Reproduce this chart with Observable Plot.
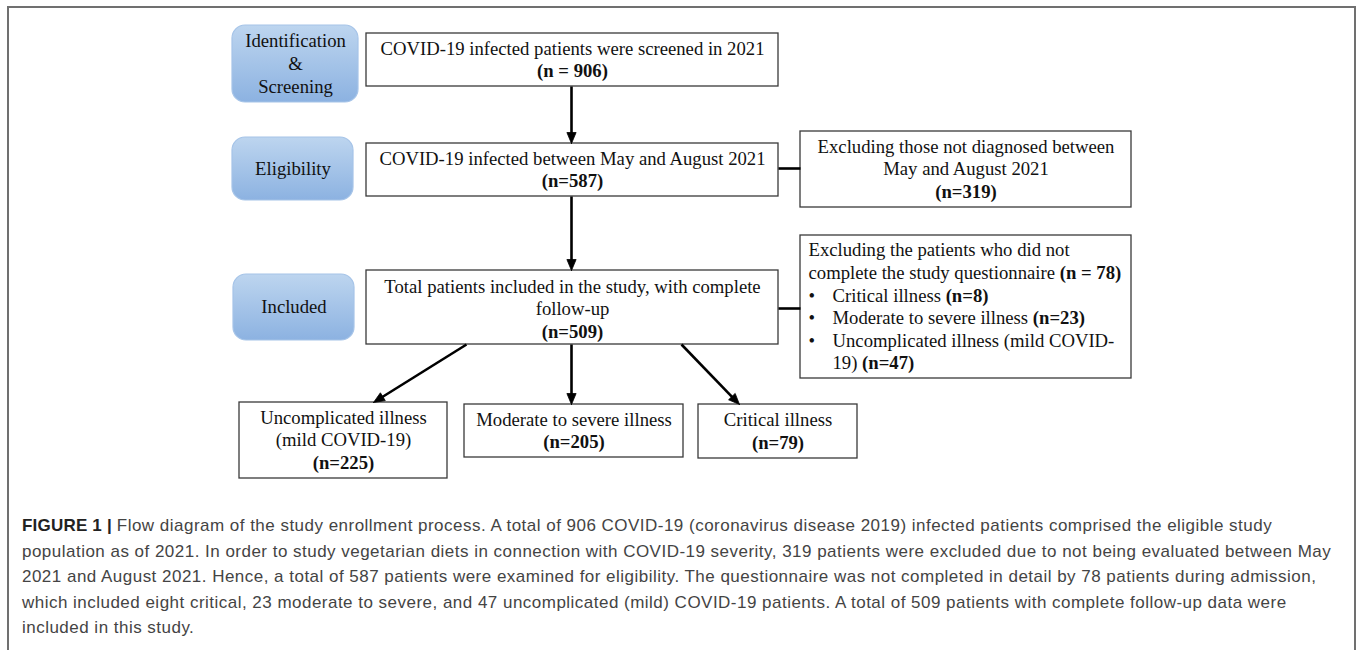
<!DOCTYPE html>
<html><head><meta charset="utf-8">
<script src="https://cdn.jsdelivr.net/npm/d3@7"></script>
<script src="https://cdn.jsdelivr.net/npm/@observablehq/plot@0.6"></script>
<style>
html,body{margin:0;padding:0;background:#fff;overflow:hidden;width:1357px;height:650px}
#chart{position:absolute;left:0;top:0}
#frame{position:absolute;left:7px;top:6px;width:1349px;height:720px;border:2px solid #707070;box-sizing:border-box;pointer-events:none}
#caption{position:absolute;left:22px;top:513px;font-family:"Liberation Sans",Arial,sans-serif;font-size:17px;letter-spacing:0.48px;line-height:25.5px;color:#444;white-space:nowrap}
#caption b{color:#222;letter-spacing:0.2px}
</style></head><body>
<div id="chart"></div><div id="caption"></div><div id="frame"></div>
<script>
// ---------- data ----------
const stageLabels = ["Identification\n&\nScreening", "Eligibility", "Included"];
const flowLabels = [
  "COVID-19 infected patients were screened in 2021",
  "COVID-19 infected between May and August 2021",
  "Total patients included in the study, with complete\nfollow-up"
];
const flowCounts = ["(n = 906)", "(n=587)", "(n=509)"];
const dateExclusionLabel = "Excluding those not diagnosed between\nMay and August 2021";
const dateExclusionCount = "(n=319)";
const questionnaireLabel = ["Excluding the patients who did not", "complete the study questionnaire"];
const questionnaireCount = "(n = 78)";
const excludedGroups = ["Critical illness", "Moderate to severe illness", "Uncomplicated illness (mild COVID-\n19)"];
const excludedCounts = ["(n=8)", "(n=23)", "(n=47)"];
const outcomeLabels = ["Uncomplicated illness\n(mild COVID-19)", "Moderate to severe illness", "Critical illness"];
const outcomeCounts = ["(n=225)", "(n=205)", "(n=79)"];
const captionLead = "FIGURE 1 |";
const captionLines = [
  "Flow diagram of the study enrollment process. A total of 906 COVID-19 (coronavirus disease 2019) infected patients comprised the eligible study",
  "population as of 2021. In order to study vegetarian diets in connection with COVID-19 severity, 319 patients were excluded due to not being evaluated between May",
  "2021 and August 2021. Hence, a total of 587 patients were examined for eligibility. The questionnaire was not completed in detail by 78 patients during admission,",
  "which included eight critical, 23 moderate to severe, and 47 uncomplicated (mild) COVID-19 patients. A total of 509 patients with complete follow-up data were",
  "included in this study."
];

// ---------- layout ----------
const layout = {
  stage: [{x1:232,x2:358,y1:25,y2:102},{x1:232,x2:353,y1:137,y2:200},{x1:233,x2:354,y1:274,y2:340}],
  flow: [{x1:366,x2:778,y1:33,y2:86},{x1:366,x2:778,y1:143,y2:196},{x1:366,x2:778,y1:270,y2:344}],
  excl: [{x1:800,x2:1131,y1:131,y2:207},{x1:800,x2:1131,y1:235,y2:378}],
  outcome: [{x1:239,x2:447,y1:402,y2:478},{x1:464,x2:683,y1:404,y2:457},{x1:698,x2:857,y1:404,y2:458}],
  arrows: [
    {x1:571,y1:86,x2:571,y2:143},
    {x1:571,y1:196,x2:571,y2:270},
    {x1:466,y1:344,x2:373,y2:402},
    {x1:571,y1:344,x2:571,y2:404},
    {x1:681,y1:344,x2:739,y2:404}
  ],
  connectors: [{x1:778,y1:168,x2:800,y2:168},{x1:778,y1:308,x2:800,y2:308}],
  textX: 808, bulletTextX: 832
};

const serif = "'Liberation Serif','Times New Roman',serif";
const FS = 18.7, LH = 22.6;
const ctx = document.createElement("canvas").getContext("2d");
const measure = (t, bold) => { ctx.font = `${bold ? "bold " : ""}${FS}px 'Liberation Serif'`; return ctx.measureText(t).width; };

const rows = [];
function addCentered(box, lines, dy = 0) {
  const cx = (box.x1 + box.x2) / 2, cy = (box.y1 + box.y2) / 2 + dy;
  lines.forEach((l, i) => rows.push({x: cx, y: cy + (i - (lines.length - 1) / 2) * LH, text: l.text, bold: l.bold, anchor: "middle"}));
}
const plain = s => s.split("\n").map(t => ({text: t, bold: false}));

stageLabels.forEach((s, i) => addCentered(layout.stage[i], plain(s)));
flowLabels.forEach((s, i) => addCentered(layout.flow[i], [...plain(s), {text: flowCounts[i], bold: true}], i === 2 ? 2 : 0));
addCentered(layout.excl[0], [...plain(dateExclusionLabel), {text: dateExclusionCount, bold: true}]);
outcomeLabels.forEach((s, i) => addCentered(layout.outcome[i], [...plain(s), {text: outcomeCounts[i], bold: true}]));

// questionnaire box: left aligned, mixed bold
{
  const b = layout.excl[1];
  const lines = [];
  lines.push([{t: questionnaireLabel[0]}]);
  lines.push([{t: questionnaireLabel[1] + " "}, {t: questionnaireCount, bold: true}]);
  excludedGroups.forEach((g, i) => {
    const parts = g.split("\n");
    parts.forEach((p, j) => {
      const last = j === parts.length - 1;
      const segs = [{t: p + (last ? " " : ""), indent: true, bullet: j === 0}];
      if (last) segs.push({t: excludedCounts[i], bold: true, indent: true});
      lines.push(segs);
    });
  });
  const cy = (b.y1 + b.y2) / 2;
  lines.forEach((segs, i) => {
    const y = cy + (i - (lines.length - 1) / 2) * LH;
    let x = segs[0].indent ? layout.bulletTextX : layout.textX;
    if (segs[0].bullet) rows.push({x: layout.textX, y, text: "•", bold: false, anchor: "start"});
    segs.forEach(s => {
      rows.push({x, y, text: s.t, bold: !!s.bold, anchor: "start"});
      x += measure(s.t, s.bold);
    });
  });
}

// arrows: shafts + filled heads
const HL = 11, HW = 4.6;
const shafts = [], heads = [];
layout.arrows.forEach((a, k) => {
  const dx = a.x2 - a.x1, dy = a.y2 - a.y1, len = Math.hypot(dx, dy);
  const ux = dx / len, uy = dy / len, nx = -uy, ny = ux;
  const bx = a.x2 - HL * ux, by = a.y2 - HL * uy;
  shafts.push({x1: a.x1, y1: a.y1, x2: bx + 2 * ux, y2: by + 2 * uy});
  heads.push({id: k, x: a.x2, y: a.y2}, {id: k, x: bx + HW * nx, y: by + HW * ny}, {id: k, x: bx - HW * nx, y: by - HW * ny}, {id: k, x: a.x2, y: a.y2});
});

const plainBoxes = [...layout.flow, ...layout.excl, ...layout.outcome];

const defs = () => {
  const d = document.createElementNS("http://www.w3.org/2000/svg", "defs");
  d.innerHTML = '<linearGradient id="stageGrad" x1="0" y1="0" x2="0" y2="1"><stop offset="0" stop-color="#bdd5ef"/><stop offset="1" stop-color="#8cb2e1"/></linearGradient>';
  return d;
};

const textOpts = (anchor, bold) => ({
  x: "x", y: "y", text: "text", textAnchor: anchor, lineAnchor: "middle",
  fontFamily: serif, fontSize: FS, fontWeight: bold ? "bold" : "normal", fill: "#111"
});

const chart = Plot.plot({
  width: 1357, height: 490, margin: 0,
  x: {type: "identity", axis: null}, y: {type: "identity", axis: null},
  style: {background: "transparent", overflow: "visible"},
  marks: [
    defs,
    Plot.rect(layout.stage, {x1: "x1", x2: "x2", y1: "y1", y2: "y2", rx: 13, fill: "url(#stageGrad)", stroke: "#a6c4e8", strokeWidth: 1.2}),
    Plot.rect(plainBoxes, {x1: "x1", x2: "x2", y1: "y1", y2: "y2", fill: "white", stroke: "#3a3a3a", strokeWidth: 1.3}),
    Plot.link(layout.connectors, {x1: "x1", y1: "y1", x2: "x2", y2: "y2", stroke: "#000", strokeWidth: 2.6}),
    Plot.link(shafts, {x1: "x1", y1: "y1", x2: "x2", y2: "y2", stroke: "#000", strokeWidth: 2.6}),
    Plot.line(heads, {x: "x", y: "y", z: "id", fill: "#000", stroke: "#000", strokeWidth: 0.8, curve: "linear"}),
    Plot.text(rows.filter(r => r.anchor === "middle" && !r.bold), textOpts("middle", false)),
    Plot.text(rows.filter(r => r.anchor === "middle" && r.bold), textOpts("middle", true)),
    Plot.text(rows.filter(r => r.anchor === "start" && !r.bold), textOpts("start", false)),
    Plot.text(rows.filter(r => r.anchor === "start" && r.bold), textOpts("start", true))
  ]
});
document.getElementById("chart").appendChild(chart);

const cap = document.getElementById("caption");
captionLines.forEach((l, i) => {
  const div = document.createElement("div");
  if (i === 0) { const b = document.createElement("b"); b.textContent = captionLead + " "; div.appendChild(b); }
  div.appendChild(document.createTextNode(l));
  cap.appendChild(div);
});
</script>
</body></html>
